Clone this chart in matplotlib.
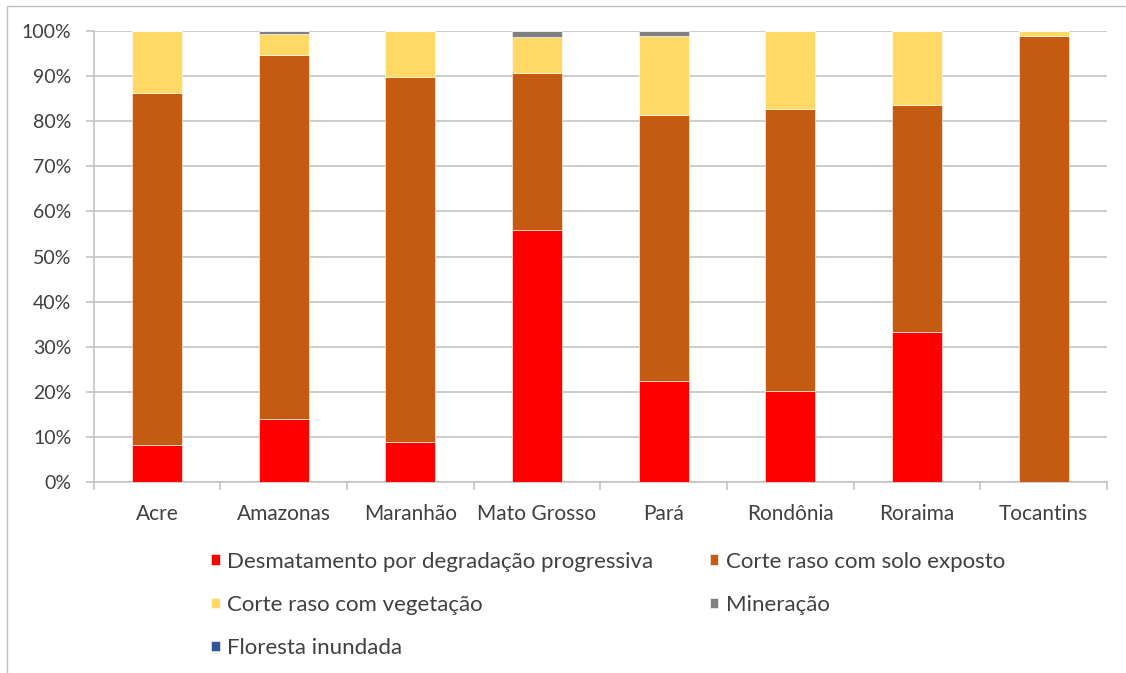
import matplotlib
matplotlib.use("Agg")
import matplotlib.pyplot as plt
import numpy as np
from matplotlib.patches import Rectangle

plt.rcParams['font.family'] = ['Lato', 'DejaVu Sans']

states = ["Acre", "Amazonas", "Maranhão", "Mato Grosso", "Pará", "Rondônia", "Roraima", "Tocantins"]
series_names = ["Desmatamento por degradação progressiva", "Corte raso com solo exposto",
                "Corte raso com vegetação", "Mineração", "Floresta inundada"]
desmatamento = [8.1, 14.0, 8.9, 55.9, 22.3, 20.1, 33.3, 0.0]
corte_solo = [78.2, 80.6, 80.8, 34.8, 59.1, 62.6, 50.4, 99.0]
corte_veg = [13.7, 4.8, 10.3, 8.0, 17.6, 17.3, 16.3, 1.0]
mineracao = [0.0, 0.6, 0.0, 1.3, 1.0, 0.0, 0.0, 0.0]
floresta = [0.0, 0.0, 0.0, 0.0, 0.0, 0.0, 0.0, 0.0]
yticks = [0, 10, 20, 30, 40, 50, 60, 70, 80, 90, 100]

colors = ["#FF0000", "#C55A11", "#FFD966", "#808080", "#2F5597"]
series = [desmatamento, corte_solo, corte_veg, mineracao, floresta]

fig = plt.figure(figsize=(11.26, 6.73), dpi=100)
ax = fig.add_axes([93.5 / 1126, 1 - 482 / 673, (1107 - 93.5) / 1126, (482 - 31) / 673])

x = np.arange(len(states))
bottom = np.zeros(len(states))
handles = []
for vals, col, name in zip(series, colors, series_names):
    v = np.array(vals, dtype=float)
    b = ax.bar(x, v, width=0.395, bottom=bottom, color=col, edgecolor='white',
               linewidth=0.4, label=name, zorder=3)
    handles.append(b)
    bottom += v

gc = "#BFBFBF"
ax.set_ylim(0, 100)
ax.set_xlim(-0.5, len(states) - 0.5)
ax.set_yticks(yticks)
ax.set_yticklabels([f"{t}%" for t in yticks])
ax.yaxis.grid(True, color=gc, linewidth=1.1, zorder=0)
ax.set_axisbelow(True)
for s in ["top", "right"]:
    ax.spines[s].set_visible(False)
for s in ["left", "bottom"]:
    ax.spines[s].set_color(gc)
    ax.spines[s].set_linewidth(1.1)

ax.set_xticks(x)
ax.set_xticklabels(states)
ax.set_xticks(np.arange(-0.5, len(states), 1.0), minor=True)
ax.tick_params(axis='x', which='major', length=0, pad=16, labelsize=15, labelcolor="#404040")
ax.tick_params(axis='x', which='minor', length=6, width=1.1, color=gc, direction='out')
ax.tick_params(axis='y', length=6, width=1.1, color=gc, pad=10, labelsize=14, labelcolor="#404040")

order = [0, 2, 4, 1, 3]
leg = fig.legend([handles[i] for i in order], [series_names[i] for i in order],
                 loc='upper left', bbox_to_anchor=(193 / 1126, 1 - 534 / 673),
                 ncol=2, frameon=False, fontsize=16, handlelength=0.4, handleheight=0.36,
                 handletextpad=0.32, columnspacing=2.55, labelspacing=1.04,
                 labelcolor="#404040", borderpad=0.3)

fig.patches.append(Rectangle((6.5 / 1126, -0.1), 1.2, (1 - 6 / 673) + 0.1,
                             transform=fig.transFigure, fill=False,
                             edgecolor="#BFBFBF", linewidth=1.0))

fig.savefig("out.png", dpi=100, facecolor='white')
